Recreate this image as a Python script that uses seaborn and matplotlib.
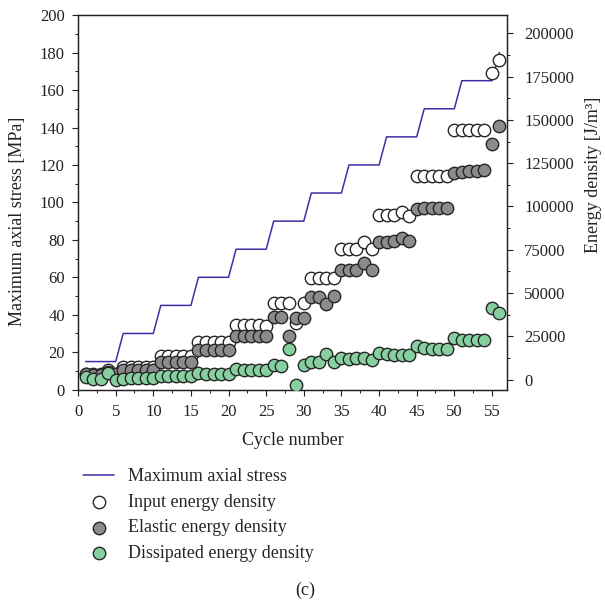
import numpy as np
import pandas as pd
import matplotlib
matplotlib.use("Agg")
import matplotlib.pyplot as plt
from matplotlib.ticker import MultipleLocator
import seaborn as sns

# Cycle index
cycles = list(range(1, 57))

# Peak axial stress applied in each loading cycle [MPa]
max_stress = [15, 15, 15, 15, 15, 30, 30, 30, 30, 30,
              45, 45, 45, 45, 45, 60, 60, 60, 60, 60,
              75, 75, 75, 75, 75, 90, 90, 90, 90, 90,
              105, 105, 105, 105, 105, 120, 120, 120, 120, 120,
              135, 135, 135, 135, 135, 150, 150, 150, 150, 150,
              165, 165, 165, 165, 165, 180]

# Energy densities per cycle [J/m^3]
input_energy = [3500, 3000, 3000, 5500, 3000, 7300, 7300, 7300, 7300, 7300,
                13400, 13400, 13400, 13400, 13400, 21600, 21600, 21600, 21600, 21600,
                31500, 31500, 31500, 31500, 31000, 44500, 44500, 44500, 32700, 44200,
                58600, 58600, 58600, 58600, 75300, 75300, 75300, 79700, 75300, 95100,
                95100, 95100, 97000, 94500, 117600, 117600, 117600, 117600, 117600, 144100,
                144100, 144100, 144100, 144100, 177300, 184400]

elastic_energy = [3000, 2500, 2500, 4500, 3000, 5800, 5800, 5800, 5800, 5800,
                  10000, 10000, 10000, 10000, 10000, 16900, 16900, 16900, 16900, 16900,
                  25400, 25400, 25400, 25400, 25400, 36100, 36100, 25400, 35500, 35800,
                  48000, 48000, 43800, 48400, 63400, 63400, 63400, 67200, 63400, 79700,
                  79700, 80300, 82000, 80100, 98400, 99000, 99000, 99000, 99300, 119500,
                  120100, 120500, 120600, 121000, 135800, 146400]

dissipated_energy = [1500, 500, 500, 3800, 0, 200, 1000, 1000, 1000, 1000,
                     1900, 2300, 1900, 1900, 2300, 3800, 3500, 3500, 3500, 3500,
                     6100, 5800, 5800, 5800, 5800, 8600, 7700, 17700, -3300, 8400,
                     10000, 10000, 15000, 10000, 12500, 11900, 12500, 12500, 11500, 15400,
                     15000, 14400, 14400, 14400, 19200, 18300, 17900, 17900, 17900, 24000,
                     23100, 23100, 23100, 23100, 41300, 38400]

df = pd.DataFrame({
    "cycle": cycles,
    "stress": max_stress,
    "input": input_energy,
    "elastic": elastic_energy,
    "dissipated": dissipated_energy,
})

sns.set_style("ticks")
plt.rcParams["font.family"] = ["Liberation Serif", "DejaVu Serif"]
plt.rcParams["font.size"] = 12
plt.rcParams["xtick.direction"] = "out"
plt.rcParams["ytick.direction"] = "out"

fig = plt.figure(figsize=(6.05, 6.06), dpi=100)
ax = fig.add_axes([0.129, 0.357, 0.709, 0.618])
ax2 = ax.twinx()

line_color = "#3b2fa6"
edge = "#262626"
txt = "#222222"

sns.lineplot(data=df, x="cycle", y="stress", ax=ax, color=line_color,
             linewidth=1.1, label="Maximum axial stress", legend=False)

marker_kw = dict(s=80, linewidth=1.0, edgecolor=edge, zorder=3, legend=False)
sns.scatterplot(data=df, x="cycle", y="input", ax=ax2, color="white",
                label="Input energy density", **marker_kw)
sns.scatterplot(data=df, x="cycle", y="elastic", ax=ax2, color="#8b8b8e",
                label="Elastic energy density", **marker_kw)
sns.scatterplot(data=df, x="cycle", y="dissipated", ax=ax2, color="#86cf9f",
                label="Dissipated energy density", **marker_kw)

ax.set_xlim(0, 57)
ax.set_ylim(0, 200)
ax2.set_ylim(-5800, 210500)

ax.xaxis.set_major_locator(MultipleLocator(5))
ax.xaxis.set_minor_locator(MultipleLocator(2.5))
ax.yaxis.set_major_locator(MultipleLocator(20))
ax.yaxis.set_minor_locator(MultipleLocator(10))
ax2.yaxis.set_major_locator(MultipleLocator(25000))
ax2.yaxis.set_minor_locator(MultipleLocator(12500))

for a in (ax, ax2):
    for s in a.spines.values():
        s.set_visible(True)
        s.set_color(txt)
        s.set_linewidth(0.9)
    a.tick_params(which="major", length=4.5, width=0.8, color=txt,
                  labelsize=12, labelcolor=txt, pad=5)
    a.tick_params(which="minor", length=2.5, width=0.7, color=txt)
ax.tick_params(axis="x", which="major", pad=6)
ax2.tick_params(axis="y", which="major", pad=8)
ax.tick_params(axis="y", which="both", right=False)
ax.tick_params(axis="x", which="both", top=False)
ax2.tick_params(axis="y", which="both", left=False)

ax.set_xlabel("Cycle number", fontsize=13, color=txt)
ax.set_ylabel("Maximum axial stress [MPa]", fontsize=13, color=txt)
ax2.set_ylabel("Energy density [J/m³]", fontsize=13, color=txt)
ax.xaxis.set_label_coords(0.5, -0.114)
ax.yaxis.set_label_coords(-0.122, 0.45)
ax2.yaxis.set_label_coords(1.183, 0.575)

h1, l1 = ax.get_legend_handles_labels()
h2, l2 = ax2.get_legend_handles_labels()
fig.legend(h1 + h2, l1 + l2, loc="upper left", bbox_to_anchor=(0.126, 0.239),
           frameon=False, fontsize=13, handlelength=1.67, handletextpad=0.78,
           labelspacing=0.47, borderaxespad=0.0, markerscale=1.0)

fig.text(0.504, 0.026, "(c)", ha="center", va="center", fontsize=13,
         color=txt)

fig.savefig("out.png", dpi=100)
